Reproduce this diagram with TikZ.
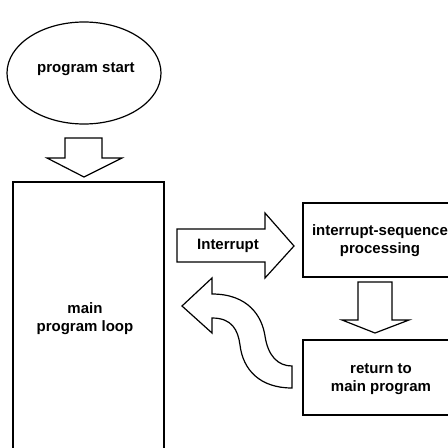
\documentclass[tikz,border=0pt]{standalone}
\usepackage{fontspec}
\setmainfont{Liberation Sans}
\begin{document}
\begin{tikzpicture}[x=1pt,y=-1pt,line width=1.2pt,
  lbl/.style={font=\fontsize{15}{18}\selectfont\bfseries,align=center,inner sep=0pt},
  shp/.style={draw=black,fill=white,line join=miter}]
\useasboundingbox (0,0) rectangle (448,448);
\clip (0,0) rectangle (448,448);
% start ellipse
\draw[shp] (84,73) ellipse [x radius=77, y radius=51];
\node[lbl] (start) at (86,69) {program start};
% down arrow 1
\draw[shp] (65,138) -- (102,138) -- (102,158) -- (122,158) -- (84,177) -- (47,158) -- (65,158) -- cycle;
% main box
\draw[shp] (13,182) rectangle (164,470);
\node[lbl] (main) at (85,319) {main\\program loop};
% interrupt arrow
\draw[shp] (177,229) -- (265,229) -- (265,213) -- (294,246) -- (265,278) -- (265,262) -- (177,262) -- cycle;
\node[lbl] (intr) at (228,246) {Interrupt};
% interrupt-sequence box
\draw[shp] (303,203) rectangle (470,277);
\node[lbl] (seq) at (380,241) {interrupt-sequence\\processing};
% down arrow 2
\draw[shp] (358,282) -- (392,282) -- (392,320) -- (409,320) -- (375,333) -- (342,320) -- (358,320) -- cycle;
% return box
\draw[shp] (303,340) rectangle (470,415);
\node[lbl] (ret) at (381,379) {return to\\main program};
% curved return arrow
\draw[shp] (182,306) -- (212,278) -- (212,294)
  .. controls (248,294) and (262,316) .. (265,336)
  .. controls (268,356) and (278,366) .. (292,366)
  -- (292,388)
  .. controls (260,388) and (243,370) .. (240,345)
  .. controls (238,330) and (232,318) .. (212,318)
  -- (212,333) -- cycle;
\end{tikzpicture}
\end{document}
